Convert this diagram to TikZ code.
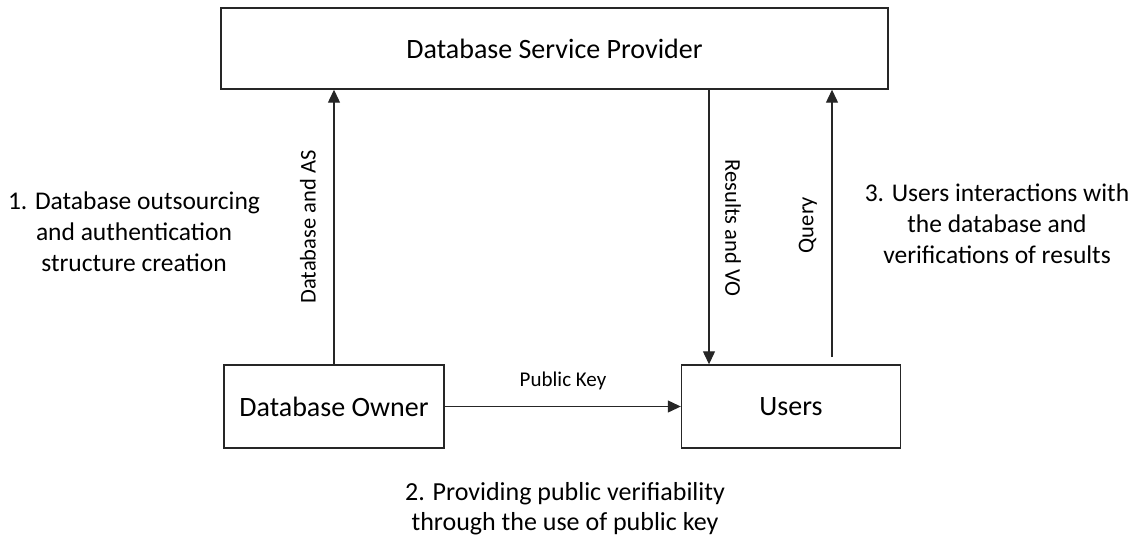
\documentclass[tikz,border=0pt]{standalone}
\usepackage{fontspec}
\setmainfont{Carlito}
\usetikzlibrary{arrows.meta,calc}
\begin{document}
\begin{tikzpicture}[x=1pt,y=-1pt,
  box/.style={draw=black!85,line width=1.4pt,rectangle,inner sep=0pt},
  conn/.style={line width=1.2pt,draw=black!85,-{Triangle[length=13pt,width=12pt]}},
  big/.style={font=\fontsize{28}{32}\selectfont},
  lbl/.style={font=\fontsize{22.5}{26}\selectfont},
  note/.style={font=\fontsize{25.5}{31}\selectfont,align=center}]
\useasboundingbox (0,0) rectangle (1137,539);
\node[box,big,minimum width=667pt,minimum height=81pt] (dsp) at (554.5,48.5) {Database Service Provider};
\node[box,big,minimum width=220pt,minimum height=83pt] (owner) at (334,406.5) {Database Owner};
\node[box,big,minimum width=219pt,minimum height=83pt] (users) at (791,406.5) {Users};
\coordinate (rtop) at (709,89);
\coordinate (qbot) at (832,357);
\draw[conn] (owner.north) -- (owner.north |- dsp.south);
\draw[conn] (rtop |- dsp.south) -- (rtop |- users.north);
\draw[conn] (qbot) -- (qbot |- dsp.south);
\draw[conn] (owner.east) -- (users.west);
\node[lbl,font=\fontsize{21}{24}\selectfont] (lpk) at (563,381) {Public Key};
\node[lbl,rotate=90] (lda) at (308,227) {Database and AS};
\node[lbl,rotate=-90] (lrv) at (733,228) {Results and VO};
\node[lbl,rotate=90] (lq) at (808,225) {Query};
\node[note] (n1) at (134,232) {1. Database outsourcing\\and authentication\\structure creation};
\node[note] (n3) at (997,224) {3. Users interactions with\\the database and\\verifications of results};
\node[note,font=\fontsize{26}{30}\selectfont] (n2) at (565,509) {2. Providing public verifiability\\through the use of public key};
\end{tikzpicture}
\end{document}
